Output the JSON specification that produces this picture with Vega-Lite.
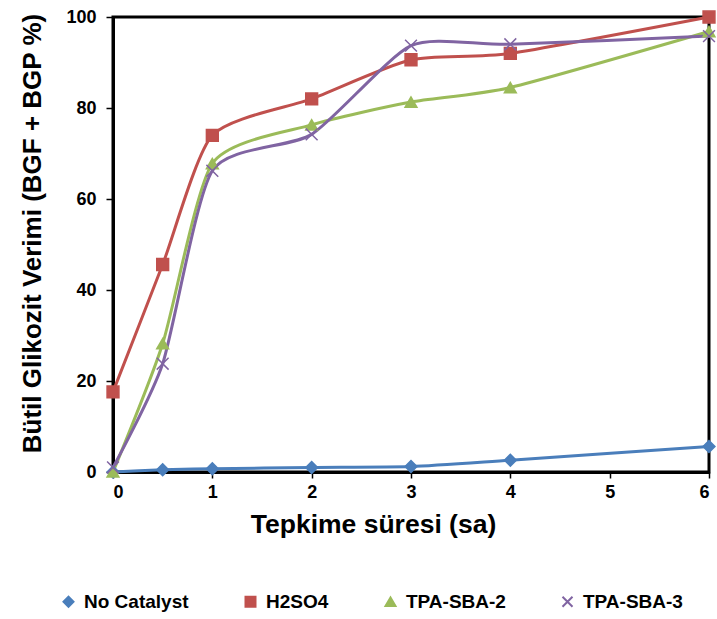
{
  "$schema": "https://vega.github.io/schema/vega-lite/v6.json",
  "autosize": "none",
  "width": 596,
  "height": 455,
  "padding": {"left": 113, "top": 17, "right": 8, "bottom": 147},
  "background": "white",
  "data": {
    "values": [
      {"t": 0, "yield": 0.0, "catalyst": "No Catalyst"},
      {"t": 0.5, "yield": 0.5, "catalyst": "No Catalyst"},
      {"t": 1, "yield": 0.7, "catalyst": "No Catalyst"},
      {"t": 2, "yield": 1.0, "catalyst": "No Catalyst"},
      {"t": 3, "yield": 1.2, "catalyst": "No Catalyst"},
      {"t": 4, "yield": 2.6, "catalyst": "No Catalyst"},
      {"t": 6, "yield": 5.6, "catalyst": "No Catalyst"},
      {"t": 0, "yield": 17.6, "catalyst": "H2SO4"},
      {"t": 0.5, "yield": 45.6, "catalyst": "H2SO4"},
      {"t": 1, "yield": 74.0, "catalyst": "H2SO4"},
      {"t": 2, "yield": 82.0, "catalyst": "H2SO4"},
      {"t": 3, "yield": 90.6, "catalyst": "H2SO4"},
      {"t": 4, "yield": 92.0, "catalyst": "H2SO4"},
      {"t": 6, "yield": 100.0, "catalyst": "H2SO4"},
      {"t": 0, "yield": 0.0, "catalyst": "TPA-SBA-2"},
      {"t": 0.5, "yield": 28.2, "catalyst": "TPA-SBA-2"},
      {"t": 1, "yield": 67.8, "catalyst": "TPA-SBA-2"},
      {"t": 2, "yield": 76.3, "catalyst": "TPA-SBA-2"},
      {"t": 3, "yield": 81.3, "catalyst": "TPA-SBA-2"},
      {"t": 4, "yield": 84.5, "catalyst": "TPA-SBA-2"},
      {"t": 6, "yield": 96.8, "catalyst": "TPA-SBA-2"},
      {"t": 0, "yield": 1.0, "catalyst": "TPA-SBA-3"},
      {"t": 0.5, "yield": 23.8, "catalyst": "TPA-SBA-3"},
      {"t": 1, "yield": 66.2, "catalyst": "TPA-SBA-3"},
      {"t": 2, "yield": 74.2, "catalyst": "TPA-SBA-3"},
      {"t": 3, "yield": 93.7, "catalyst": "TPA-SBA-3"},
      {"t": 4, "yield": 94.0, "catalyst": "TPA-SBA-3"},
      {"t": 6, "yield": 95.8, "catalyst": "TPA-SBA-3"}
    ]
  },
  "encoding": {
    "x": {
      "field": "t",
      "type": "quantitative",
      "scale": {"domain": [0, 6], "nice": false, "zero": false},
      "axis": {
        "title": "Tepkime süresi (sa)",
        "values": [0, 1, 2, 3, 4, 5, 6],
        "grid": false,
        "domainColor": "black",
        "domainWidth": 3,
        "tickColor": "black",
        "tickWidth": 1.5,
        "tickSize": 6,
        "labelFont": "Liberation Sans",
        "labelFontSize": 18,
        "labelFontWeight": "bold",
        "labelColor": "black",
        "labelPadding": 5,
        "titleFont": "Liberation Sans",
        "titleFontSize": 26.5,
        "titleFontWeight": "bold",
        "titleColor": "black",
        "titlePadding": 10,
        "titleX": 260
      }
    },
    "y": {
      "field": "yield",
      "type": "quantitative",
      "scale": {"domain": [0, 100], "nice": false},
      "axis": {
        "title": "Bütil Glikozit Verimi (BGF + BGP %)",
        "values": [0, 20, 40, 60, 80, 100],
        "grid": false,
        "domainColor": "black",
        "domainWidth": 3,
        "tickColor": "black",
        "tickWidth": 1.5,
        "tickSize": 7,
        "labelFont": "Liberation Sans",
        "labelFontSize": 18,
        "labelFontWeight": "bold",
        "labelColor": "black",
        "labelPadding": 10,
        "titleFont": "Liberation Sans",
        "titleFontSize": 26,
        "titleFontWeight": "bold",
        "titleColor": "black",
        "titlePadding": 20,
        "titleY": 216
      }
    },
    "color": {
      "field": "catalyst",
      "type": "nominal",
      "sort": ["No Catalyst", "H2SO4", "TPA-SBA-2", "TPA-SBA-3"],
      "scale": {
        "domain": ["No Catalyst", "H2SO4", "TPA-SBA-2", "TPA-SBA-3"],
        "range": ["#4a7ebb", "#c0504d", "#9bbb59", "#8064a2"]
      },
      "legend": {
        "orient": "none",
        "direction": "horizontal",
        "legendX": -54,
        "legendY": 575,
        "padding": 0,
        "title": null,
        "columns": 4,
        "columnPadding": 52,
        "symbolSize": 100,
        "symbolStrokeWidth": 2,
        "labelOffset": 6
      }
    }
  },
  "layer": [
    {
      "mark": {"type": "line", "interpolate": "cardinal", "tension": 0.35, "strokeWidth": 3}
    },
    {
      "mark": {"type": "point", "filled": true, "opacity": 1, "strokeWidth": 1.5},
      "encoding": {
        "shape": {
          "field": "catalyst",
          "type": "nominal",
          "scale": {
            "domain": ["No Catalyst", "H2SO4", "TPA-SBA-2", "TPA-SBA-3"],
            "range": ["diamond", "square", "triangle-up", "M-1,-1L1,1M-1,1L1,-1"]
          },
          "legend": null
        },
        "fill": {
          "field": "catalyst",
          "type": "nominal",
          "scale": {
            "domain": ["No Catalyst", "H2SO4", "TPA-SBA-2", "TPA-SBA-3"],
            "range": ["#4a7ebb", "#c0504d", "#9bbb59", "transparent"]
          },
          "legend": null
        },
        "stroke": {
          "field": "catalyst",
          "type": "nominal",
          "scale": {
            "domain": ["No Catalyst", "H2SO4", "TPA-SBA-2", "TPA-SBA-3"],
            "range": ["#4a7ebb", "#c0504d", "#9bbb59", "#8064a2"]
          },
          "legend": null
        },
        "size": {"value": 140}
      }
    }
  ],
  "config": {
    "view": {"stroke": "black", "strokeWidth": 3},
    "legend": {
      "labelFont": "Liberation Sans",
      "labelFontSize": 19,
      "labelFontWeight": "bold",
      "labelColor": "black"
    }
  }
}
